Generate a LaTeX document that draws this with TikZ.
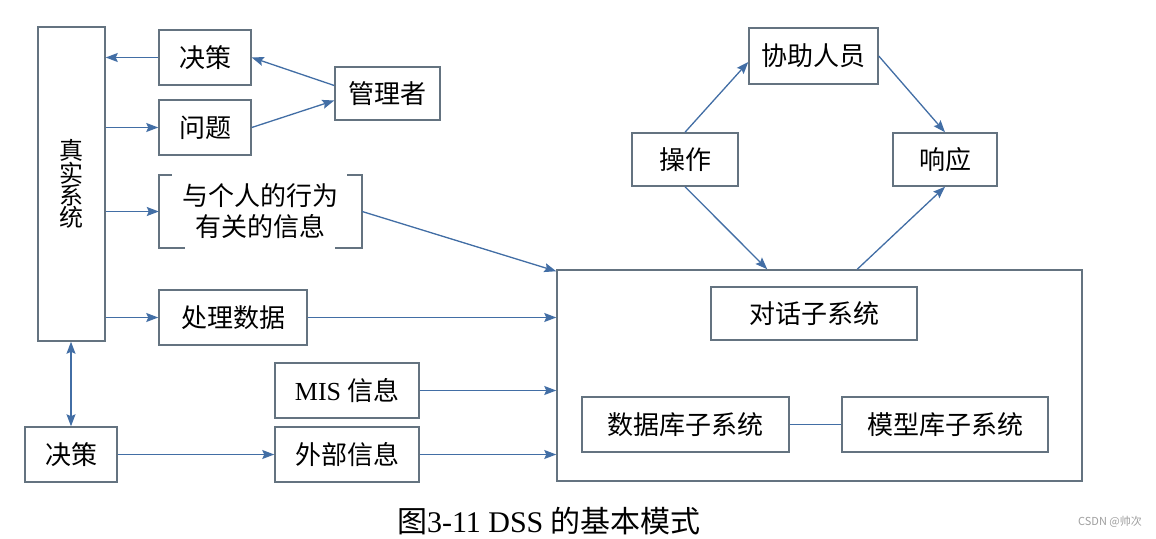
\documentclass[tikz,border=0pt]{standalone}
\usepackage{fontspec}
\setmainfont{Liberation Serif}
\newfontfamily\cjk{Noto Sans CJK SC}
\usetikzlibrary{arrows.meta,calc}
\definecolor{boxc}{RGB}{100,115,128}
\definecolor{linec}{RGB}{66,110,165}
\begin{document}
\begin{tikzpicture}[x=1pt,y=-1pt,
  box/.style={draw=boxc,line width=1.5pt,inner sep=0pt,align=center,
    font=\fontsize{26}{30}\selectfont\cjk},
  bracketbox/.style={inner sep=0pt,align=center,font=\fontsize{26}{31}\selectfont\cjk},
  brk/.style={draw=boxc,line width=1.5pt},
  arr/.style={draw=linec,line width=1.3pt,-{Stealth[length=12pt,width=9pt,inset=2pt]}},
  darr/.style={draw=linec,line width=1.3pt,{Stealth[length=12pt,width=9pt,inset=2pt]}-{Stealth[length=12pt,width=9pt,inset=2pt]}},
  plain/.style={draw=linec,line width=1.3pt}]
\fill[white] (0,0) rectangle (1156,538);
\useasboundingbox (0,0) rectangle (1156,538);

% left column
\node[box,minimum width=67pt,minimum height=314pt] (real) at (71.5,184) {};
\node[inner sep=0pt,align=center,font=\fontsize{24}{22}\selectfont\cjk] (realtxt) at (71.5,184) {真\\实\\系\\统};
\node[box,minimum width=92pt,minimum height=55pt] (jc1) at (205,57.5) {决策};
\node[box,minimum width=92pt,minimum height=55pt] (wt) at (205,127.5) {问题};
\node[box,minimum width=105pt,minimum height=53pt] (glz) at (387.5,93.5) {管理者};
\node[bracketbox,minimum width=203pt,minimum height=73pt] (grxw) at (260.5,211.5) {与个人的行为\\有关的信息};
\node[box,minimum width=148pt,minimum height=55pt] (clsj) at (233,317.5) {处理数据};
\node[box,minimum width=144pt,minimum height=55pt] (mis) at (347,390.5) {{\rmfamily MIS} 信息};
\node[box,minimum width=144pt,minimum height=55pt] (wbxx) at (347,454.5) {外部信息};
\node[box,minimum width=92pt,minimum height=55pt] (jc2) at (71,454.5) {决策};

% right part
\node[box,minimum width=525pt,minimum height=211pt] (big) at (819.5,375.5) {};
\node[box,minimum width=206pt,minimum height=53pt] (dh) at (814,313.5) {对话子系统};
\node[box,minimum width=207pt,minimum height=55pt] (sjk) at (685.5,424.5) {数据库子系统};
\node[box,minimum width=206pt,minimum height=55pt] (mxk) at (945,424.5) {模型库子系统};
\node[box,minimum width=106pt,minimum height=53pt] (cz) at (685,159.5) {操作};
\node[box,minimum width=129pt,minimum height=56pt] (xz) at (813.5,56) {协助人员};
\node[box,minimum width=104pt,minimum height=53pt] (xy) at (945,159.5) {响应};

% brackets
\draw[brk] ([xshift=13pt]grxw.north west) -- (grxw.north west) -- (grxw.south west) -- ([xshift=26pt]grxw.south west);
\draw[brk] ([xshift=-15pt]grxw.north east) -- (grxw.north east) -- (grxw.south east) -- ([xshift=-27pt]grxw.south east);

% connectors
\draw[arr] (jc1.west) -- (real.east |- jc1.west);
\draw[arr] (real.east |- wt.west) -- (wt.west);
\draw[arr] (real.east |- grxw.west) -- (grxw.west);
\draw[arr] (real.east |- clsj.west) -- (clsj.west);
\draw[arr] ([yshift=8pt]glz.west) -- (jc1.east);
\draw[arr] (wt.east) -- ([yshift=-7pt]glz.west);
\coordinate (bigin) at ($(big.north west)+(0,2)$);
\draw[arr] (grxw.east) -- (bigin);
\draw[arr] (clsj.east) -- (big.west |- clsj.east);
\draw[arr] (mis.east) -- (big.west |- mis.east);
\draw[arr] (wbxx.east) -- (big.west |- wbxx.east);
\draw[arr] (jc2.east) -- (wbxx.west);
\draw[darr] (jc2.north) -- (jc2.north |- real.south);
\coordinate (xzin) at ($(xz.west)+(0,6)$);
\draw[arr] (cz.north) -- (xzin);
\draw[arr] (xz.east) -- (xy.north);
\coordinate (bigtopin) at ($(big.north west)+(211,0)$);
\coordinate (bigtopout) at ($(big.north west)+(301,0)$);
\draw[arr] (cz.south) -- (bigtopin);
\draw[arr] (bigtopout) -- (xy.south);
\draw[plain] (sjk.east) -- (mxk.west);

% caption
\node[inner sep=0pt,font=\fontsize{30}{32}\selectfont] (cap) at (549,521) {{\cjk 图}3-11 DSS {\cjk 的基本模式}};
\node[inner sep=0pt,anchor=east,text=gray!75,font=\fontsize{11}{12}\selectfont\cjk] (wm) at (1142,522) {CSDN @帅次};
\end{tikzpicture}
\end{document}
